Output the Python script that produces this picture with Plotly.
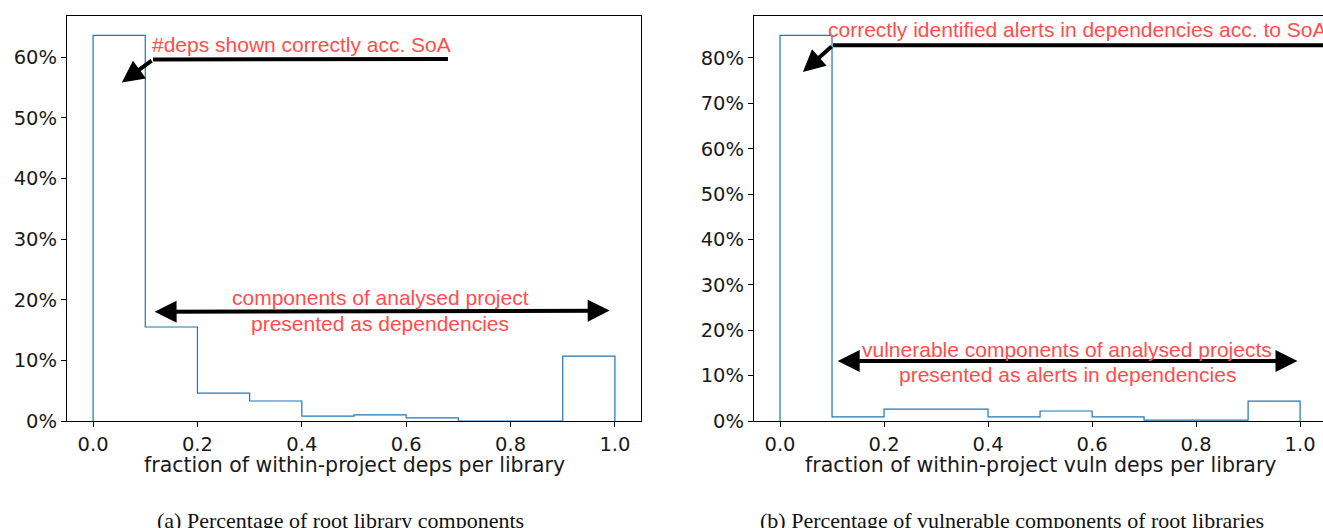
import plotly.graph_objects as go

W, H = 1323, 528

# data
bin_edges = [0.0, 0.1, 0.2, 0.3, 0.4, 0.5, 0.6, 0.7, 0.8, 0.9, 1.0]
pct_root = [63.6, 15.5, 4.6, 3.3, 0.8, 1.0, 0.5, 0.0, 0.0, 10.7]
pct_vuln = [85.0, 0.9, 2.6, 2.6, 0.9, 2.2, 0.9, 0.2, 0.2, 4.4]
x_ticks = [0.0, 0.2, 0.4, 0.6, 0.8, 1.0]
y_ticks_a = [0, 10, 20, 30, 40, 50, 60]
y_ticks_b = [0, 10, 20, 30, 40, 50, 60, 70, 80]
xlabel_a = "fraction of within-project deps per library"
xlabel_b = "fraction of within-project vuln deps per library"
caption_a = "(a) Percentage of root library components"
caption_b = "(b) Percentage of vulnerable components of root libraries"

RED = "#ff4d4d"
BLUE = "#1f77b4"
TICKFONT = dict(family="DejaVu Sans", size=19.5, color="#1a1a1a")
LABELFONT = dict(family="DejaVu Sans", size=20.5, color="#1a1a1a")
REDFONT = dict(family="Liberation Sans", size=21, color=RED)
CAPFONT = dict(family="Liberation Serif", size=22, color="#111")


def step_xy(edges, heights):
    xs, ys = [edges[0]], [0.0]
    for i, h in enumerate(heights):
        xs += [edges[i], edges[i + 1]]
        ys += [h, h]
    xs.append(edges[-1])
    ys.append(0.0)
    return xs, ys


fig = go.Figure()
xa, ya = step_xy(bin_edges, pct_root)
xb, yb = step_xy(bin_edges, pct_vuln)
fig.add_trace(go.Scatter(x=xa, y=ya, mode="lines", line=dict(color=BLUE, width=1.2),
                         xaxis="x", yaxis="y", showlegend=False, hoverinfo="skip"))
fig.add_trace(go.Scatter(x=xb, y=yb, mode="lines", line=dict(color=BLUE, width=1.2),
                         xaxis="x2", yaxis="y2", showlegend=False, hoverinfo="skip"))

ydom = [1 - 421 / H, 1 - 16 / H]
axcommon = dict(showgrid=False, zeroline=False, showline=True, linecolor="black", linewidth=1.2,
                ticks="outside", ticklen=5, tickcolor="black", tickwidth=1, tickfont=TICKFONT,
                automargin=False)

fig.update_layout(
    width=W, height=H, margin=dict(l=0, r=0, t=0, b=0, autoexpand=False),
    plot_bgcolor="white", paper_bgcolor="white", showlegend=False,
    xaxis=dict(domain=[67 / W, 641 / W], range=[-0.05, 1.05], tickvals=x_ticks,
               ticktext=[f"{v:.1f}" for v in x_ticks], mirror=True, anchor="y", **axcommon),
    yaxis=dict(domain=ydom, range=[0, 63.6 * 1.05], tickvals=y_ticks_a,
               ticktext=[f"{v}%" for v in y_ticks_a], mirror=True, anchor="x", **axcommon),
    xaxis2=dict(domain=[754 / W, 1.0], range=[-0.05, 1.044], tickvals=x_ticks,
                ticktext=[f"{v:.1f}" for v in x_ticks], mirror=True, anchor="y2", **axcommon),
    yaxis2=dict(domain=ydom, range=[0, 85.0 * 1.05], tickvals=y_ticks_b,
                ticktext=[f"{v}%" for v in y_ticks_b], mirror=False, anchor="x2", **axcommon),
)

# axis titles
fig.add_annotation(xref="paper", yref="paper", x=354 / W, y=1 - 465 / H, text=xlabel_a,
                   showarrow=False, xanchor="center", yanchor="middle", font=LABELFONT)
fig.add_annotation(xref="paper", yref="paper", x=1040 / W, y=1 - 465 / H, text=xlabel_b,
                   showarrow=False, xanchor="center", yanchor="middle", font=LABELFONT)

# arrows: left panel
fig.add_shape(type="line", xref="x", yref="y", x0=0.68, y0=59.7, x1=0.115, y1=59.6,
              line=dict(color="black", width=4))
fig.add_annotation(xref="x", yref="y", axref="x", ayref="y", x=0.055, y=55.8, ax=0.115, ay=59.6,
                   text="", showarrow=True, arrowhead=2, arrowsize=1.1, arrowwidth=4, arrowcolor="black")
fig.add_annotation(xref="x", yref="y", x=0.11, y=62.0, text="#deps shown correctly acc. SoA",
                   showarrow=False, xanchor="left", yanchor="middle", font=REDFONT)
fig.add_annotation(xref="x", yref="y", axref="x", ayref="y", x=0.99, y=18.2, ax=0.115, ay=18.0,
                   text="", showarrow=True, arrowhead=2, startarrowhead=2, arrowside="end+start",
                   arrowsize=1.1, startarrowsize=1.1, arrowwidth=4, arrowcolor="black")
fig.add_annotation(xref="x", yref="y", x=0.55, y=20.3, text="components of analysed project",
                   showarrow=False, xanchor="center", yanchor="middle", font=REDFONT)
fig.add_annotation(xref="x", yref="y", x=0.55, y=16.1, text="presented as dependencies",
                   showarrow=False, xanchor="center", yanchor="middle", font=REDFONT)

# arrows: right panel
fig.add_shape(type="line", xref="x2", yref="y2", x0=1.06, y0=82.8, x1=0.102, y1=82.8,
              line=dict(color="black", width=4))
fig.add_annotation(xref="x2", yref="y2", axref="x2", ayref="y2", x=0.044, y=76.9, ax=0.102, ay=82.8,
                   text="", showarrow=True, arrowhead=2, arrowsize=1.1, arrowwidth=4, arrowcolor="black")
fig.add_annotation(xref="x2", yref="y2", x=0.088, y=86.3,
                   text="correctly identified alerts in dependencies acc. to SoA",
                   showarrow=False, xanchor="left", yanchor="middle", font=REDFONT)
fig.add_annotation(xref="x2", yref="y2", axref="x2", ayref="y2", x=0.995, y=13.2, ax=0.108, ay=13.2,
                   text="", showarrow=True, arrowhead=2, startarrowhead=2, arrowside="end+start",
                   arrowsize=1.1, startarrowsize=1.1, arrowwidth=4, arrowcolor="black")
fig.add_annotation(xref="x2", yref="y2", x=0.552, y=15.8, text="vulnerable components of analysed projects",
                   showarrow=False, xanchor="center", yanchor="middle", font=REDFONT)
fig.add_annotation(xref="x2", yref="y2", x=0.552, y=10.3, text="presented as alerts in dependencies",
                   showarrow=False, xanchor="center", yanchor="middle", font=REDFONT)

# captions
fig.add_annotation(xref="paper", yref="paper", x=340 / W, y=1 - 520 / H, text=caption_a,
                   showarrow=False, xanchor="center", yanchor="middle", font=CAPFONT)
fig.add_annotation(xref="paper", yref="paper", x=1012 / W, y=1 - 520 / H, text=caption_b,
                   showarrow=False, xanchor="center", yanchor="middle", font=CAPFONT)

fig.write_html("out.html")
